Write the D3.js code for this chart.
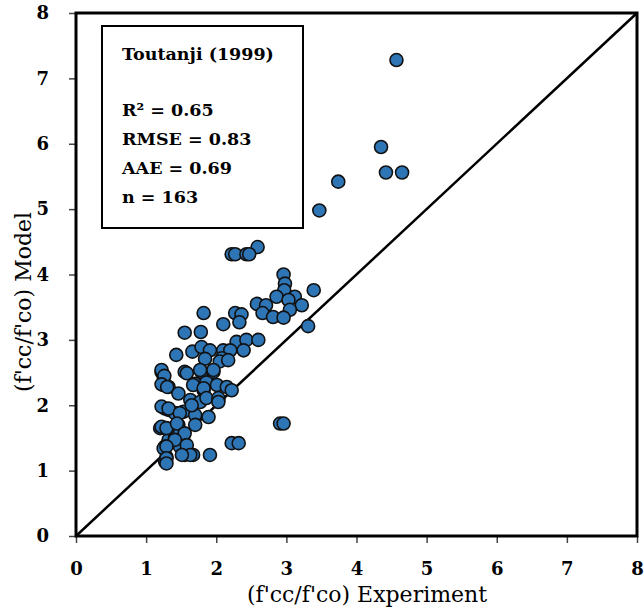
<!DOCTYPE html>
<html>
<head>
<meta charset="utf-8">
<script src="https://cdn.jsdelivr.net/npm/d3@7"></script>
<style>
  body { margin: 0; background: #fff; }
  svg { display: block; font-family: "DejaVu Serif", serif; }
</style>
</head>
<body>
<div id="chart"></div>
<script>
// values
const xTicks = [0, 1, 2, 3, 4, 5, 6, 7, 8]
const yTicks = [0, 1, 2, 3, 4, 5, 6, 7, 8]
const legendTitle = 'Toutanji (1999)'
const legendStats = ['R² = 0.65', 'RMSE = 0.83', 'AAE = 0.69', 'n = 163']

const expVals = [
  4.57, 4.35, 4.42, 4.65, 3.74, 3.47,
  2.59, 2.22, 2.27, 2.43, 2.47,
  2.96, 2.98, 2.97, 3.39, 2.86, 3.12, 3.03,
  2.58, 2.71, 3.22, 3.05, 2.66, 2.81, 2.96,
  1.82, 2.27, 2.36, 2.33, 2.10, 3.31,
  1.78, 1.55, 2.29, 2.43, 2.60,
  1.43, 1.66, 1.79, 1.91, 2.10, 2.20, 2.39, 1.84, 2.08, 2.05, 2.17,
  1.22, 1.25, 1.55, 1.58, 1.79, 1.96, 1.77, 1.96,
  1.70, 1.86, 2.01, 2.15, 1.25, 1.32, 1.46, 1.82, 1.63, 1.77, 2.03, 2.22,
  1.67, 1.82, 1.86, 2.03, 1.22, 1.26, 1.22, 1.30,
  1.27, 1.32, 1.53, 1.41, 1.70, 1.89,
  1.27, 1.46, 1.70, 1.20,
  1.32, 1.41, 1.53, 1.27, 1.48,
  1.29, 1.55, 1.67, 1.91, 2.22, 2.32, 2.91, 2.96,
  1.27, 1.25, 1.48,
  1.22, 1.32, 1.65, 1.48,
  1.22, 1.29, 1.44, 1.55, 1.41, 1.29, 1.58, 1.29, 1.63, 1.51, 1.29,
  2.03
]
const modelVals = [
  7.28, 5.95, 5.56, 5.56, 5.42, 4.98,
  4.42, 4.31, 4.31, 4.31, 4.31,
  4.00, 3.86, 3.76, 3.76, 3.66, 3.66, 3.61,
  3.55, 3.53, 3.53, 3.46, 3.41, 3.35, 3.34,
  3.41, 3.41, 3.39, 3.27, 3.24, 3.21,
  3.12, 3.11, 2.97, 3.00, 3.00,
  2.77, 2.82, 2.89, 2.84, 2.84, 2.84, 2.84, 2.71, 2.72, 2.67, 2.69,
  2.51, 2.44, 2.51, 2.49, 2.51, 2.51, 2.54, 2.54,
  2.33, 2.35, 2.31, 2.28, 2.31, 2.28, 2.18, 2.23, 2.08, 2.05, 2.08, 2.23,
  2.31, 2.26, 2.11, 2.11, 2.54, 2.45, 2.32, 2.28,
  1.95, 1.93, 1.90, 1.88, 1.85, 1.82,
  1.65, 1.70, 1.70, 1.65,
  1.47, 1.50, 1.52, 1.37, 1.37,
  1.21, 1.24, 1.24, 1.24, 1.42, 1.42, 1.72, 1.72,
  1.14, 1.34, 1.57,
  1.98, 1.95, 2.00, 1.88,
  1.67, 1.65, 1.72, 1.57, 1.47, 1.37, 1.39, 1.19, 1.24, 1.24, 1.11,
  2.05
]

const W = 644, H = 613
const margin = { top: 13, right: 7, bottom: 77, left: 76 }
const w = W - margin.left - margin.right
const h = H - margin.top - margin.bottom

const svg = d3.select('#chart').append('svg').attr('width', W).attr('height', H)
const g = svg.append('g').attr('transform', `translate(${margin.left},${margin.top})`)

const x = d3.scaleLinear().domain([0, 8]).range([0, w])
const y = d3.scaleLinear().domain([0, 8]).range([h, 0])

// axes
const xAxis = g.append('g').attr('transform', `translate(0,${h})`)
  .call(d3.axisBottom(x).tickValues(xTicks).tickSize(7).tickPadding(19).tickFormat(d3.format('d')))
const yAxis = g.append('g')
  .call(d3.axisLeft(y).tickValues(yTicks).tickSize(7).tickPadding(20).tickFormat(d3.format('d')))
;[xAxis, yAxis].forEach(a => {
  a.select('.domain').remove()
  a.selectAll('line').attr('stroke', '#444').attr('stroke-width', 1.5)
  a.selectAll('text').attr('font-family', '"DejaVu Serif", serif')
    .attr('font-size', 18).attr('font-weight', 'bold').attr('fill', '#000')
})

// 1:1 line
g.append('line')
  .attr('x1', x(0)).attr('y1', y(0)).attr('x2', x(8)).attr('y2', y(8))
  .attr('stroke', '#000').attr('stroke-width', 2.5)

// points
g.selectAll('.pt')
  .data(expVals.map((v, i) => [v, modelVals[i]]))
  .join('circle')
  .attr('class', 'pt')
  .attr('cx', d => x(d[0]))
  .attr('cy', d => y(d[1]))
  .attr('r', 6.5)
  .attr('fill', '#2E75B6')
  .attr('stroke', '#111')
  .attr('stroke-width', 1.6)

// frame
g.append('rect')
  .attr('x', 0).attr('y', 0).attr('width', w).attr('height', h)
  .attr('fill', 'none').attr('stroke', '#000').attr('stroke-width', 3)

// legend box
const lg = svg.append('g')
lg.append('rect')
  .attr('x', 102).attr('y', 26).attr('width', 201).attr('height', 202)
  .attr('fill', '#fff').attr('stroke', '#000').attr('stroke-width', 2)
lg.append('text')
  .attr('x', 122).attr('y', 60)
  .attr('font-size', 17.5).attr('font-weight', 'bold')
  .text(legendTitle)
lg.selectAll('.stat')
  .data(legendStats)
  .join('text')
  .attr('class', 'stat')
  .attr('x', 122).attr('y', (d, i) => 116 + i * 29)
  .attr('font-size', 17.5).attr('font-weight', 'bold')
  .text(d => d)

// axis titles
svg.append('text')
  .attr('x', 367).attr('y', 602)
  .attr('text-anchor', 'middle').attr('font-size', 22)
  .text("(f'cc/f'co) Experiment")
svg.append('text')
  .attr('transform', 'translate(31,302) rotate(-90)')
  .attr('text-anchor', 'middle').attr('font-size', 22)
  .text("(f'cc/f'co) Model")
</script>
</body>
</html>
